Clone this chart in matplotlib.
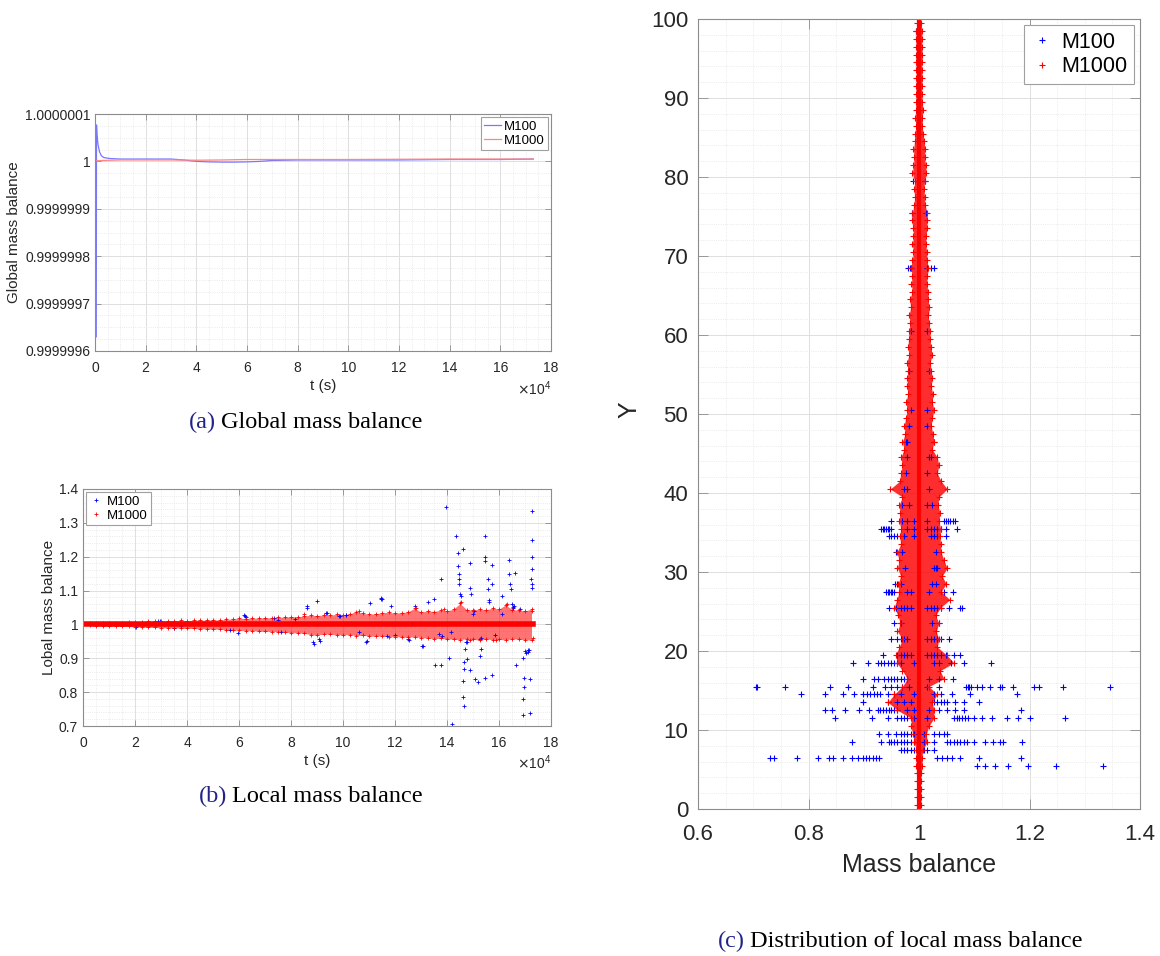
import numpy as np
import matplotlib
matplotlib.use("Agg")
import matplotlib.pyplot as plt
from matplotlib.ticker import FixedLocator, FixedFormatter, MultipleLocator, FuncFormatter

plt.rcParams['font.family'] = ['Liberation Sans', 'DejaVu Sans']

# ── (a) global mass balance: time in 1e4 s, deviation from 1 in 1e-9 ─────────
ga_t_m100 = [0.05, 0.06, 0.08, 0.12, 0.18, 0.25, 0.35, 0.6, 1, 2, 3, 3.5, 4, 4.5,
             5, 5.5, 6, 6.5, 7, 8, 10, 12, 14, 16, 17.3]
ga_dev_m100 = [-370, 77, 55, 35, 20, 12, 8, 6, 5, 5, 5, 3, 0, -1,
               -1.5, -1.5, -1, 0, 2, 3, 3, 3, 4, 4, 5]
ga_t_m1000 = [0, 0.3, 1, 2, 3, 4, 5, 6, 8, 10, 12, 14, 16, 17.3]
ga_dev_m1000 = [1, 2, 3, 3, 3, 2.5, 3, 4, 4, 4, 4.5, 5, 5, 5]
ga_yticks = [0.9999996, 0.9999997, 0.9999998, 0.9999999, 1.0, 1.0000001]
ga_ylabels = ['0.9999996', '0.9999997', '0.9999998', '0.9999999', '1', '1.0000001']

# ── (b) local mass balance vs time (1e4 s) ────────────────────────────────────
# M1000: spread of the dense red band (deviation from 1, in 1e-3)
lb_t = [0, 0.25, 0.5, 0.75, 1, 1.25, 1.5, 1.75, 2, 2.25, 2.5, 2.75, 3, 3.25, 3.5, 3.75,
        4, 4.25, 4.5, 4.75, 5, 5.25, 5.5, 5.75, 6, 6.25, 6.5, 6.75, 7, 7.25, 7.5, 7.75,
        8, 8.25, 8.5, 8.75, 9, 9.25, 9.5, 9.75, 10, 10.25, 10.5, 10.75, 11, 11.25, 11.5, 11.75,
        12, 12.25, 12.5, 12.75, 13, 13.25, 13.5, 13.75, 14, 14.25, 14.5, 14.75, 15, 15.25, 15.5, 15.75,
        16, 16.25, 16.5, 16.75, 17, 17.25]
lb_red_hi = [3, 3, 3, 4, 4, 5, 5, 6, 8, 7, 9, 10, 9, 11, 10, 12,
             11, 12, 13, 12, 14, 13, 15, 16, 18, 17, 19, 18, 20, 19, 22, 21,
             23, 22, 25, 27, 26, 28, 27, 30, 28, 31, 38, 33, 30, 32, 34, 36,
             33, 35, 37, 48, 36, 40, 38, 42, 40, 45, 62, 44, 42, 46, 43, 48,
             45, 58, 44, 42, 40, 45]
lb_red_lo = [3, 3, 4, 4, 5, 5, 6, 6, 7, 8, 9, 9, 10, 10, 11, 11,
             12, 12, 13, 13, 14, 14, 16, 17, 17, 18, 18, 20, 20, 21, 21, 23,
             24, 25, 26, 30, 32, 28, 29, 30, 31, 30, 33, 32, 34, 35, 34, 36,
             36, 37, 38, 36, 39, 40, 42, 41, 43, 44, 45, 42, 44, 46, 43, 45,
             44, 46, 42, 44, 45, 47]
lb_core_t = [0, 17.3]
lb_core_v = [1.0, 1.0]
lb_red_extra_t = [8.5, 10.6, 12.8, 13.9, 14.55, 14.9, 15.9, 16.3, 17.25, 17.3]
lb_red_extra_v = [1.03, 1.04, 1.05, 1.045, 1.065, 0.955, 0.955, 1.06, 1.04, 0.96]

# M100 points that stand out of the band
lb_blue_t = [13.96, 14.36, 14.42, 14.60, 14.42, 14.46, 14.46, 14.46, 14.50, 14.55,
             13.78, 13.50, 14.90, 14.90, 14.93, 15.45, 15.48, 15.48, 15.56, 15.58,
             15.62, 15.60, 15.74, 15.74, 16.12, 16.38, 16.38, 16.42, 16.45, 16.50,
             16.52, 16.55, 16.58, 16.62, 17.23, 17.26, 17.26, 17.26, 17.26, 17.28, 17.28,
             14.20, 14.63, 14.64, 14.63, 14.67, 14.67, 14.76, 14.70, 14.76, 14.90,
             15.07, 15.20, 15.45, 15.74, 15.27, 15.30, 15.27, 15.29, 13.53, 13.78, 14.08,
             16.66, 16.92, 17.00, 16.92, 16.92, 16.95, 16.95, 17.20, 17.18, 17.05, 17.10,
             17.12, 17.14, 13.08, 13.05, 10.90, 10.92, 12.50, 12.52, 8.85, 8.88, 9.06, 9.10,
             8.63, 8.60, 9.00, 9.34, 9.38, 10.13, 10.10, 11.48, 11.46, 11.50, 11.05, 11.86,
             12.76, 13.25, 13.82, 13.68, 14.15, 14.74, 11.69, 10.62, 7.61, 6.22, 6.25,
             6.20, 5.65, 3.78, 2.03, 2.95, 2.90, 7.36, 8.14, 9.84, 9.90, 15.00, 15.02,
             4.70, 5.95, 3.50, 7.50, 12.00, 16.10, 15.85, 16.80]
lb_blue_v = [1.347, 1.262, 1.21, 1.222, 1.173, 1.148, 1.133, 1.119, 1.089, 1.085,
             1.133, 1.076, 1.18, 1.109, 1.09, 1.262, 1.20, 1.188, 1.133, 1.105,
             1.073, 1.065, 1.175, 1.119, 1.084, 1.189, 1.148, 1.119, 1.105, 1.06,
             1.052, 1.05, 1.055, 1.153, 1.135, 1.334, 1.25, 1.20, 1.163, 1.109, 1.12,
             0.706, 0.787, 0.759, 0.832, 0.869, 0.888, 0.898, 0.927, 0.947, 0.864,
             0.839, 0.829, 0.841, 0.851, 0.908, 0.927, 0.957, 0.96, 0.88, 0.88, 0.90,
             0.88, 0.90, 0.922, 0.781, 0.733, 0.815, 0.841, 0.738, 0.84, 0.915, 0.925,
             0.92, 0.925, 0.935, 0.936, 0.947, 0.95, 0.956, 0.955, 0.947, 0.943, 0.957, 0.952,
             1.055, 1.05, 1.07, 1.035, 1.033, 1.028, 1.029, 1.077, 1.074, 1.075, 1.062, 1.055,
             1.053, 1.065, 0.967, 0.972, 0.977, 0.947, 0.967, 0.978, 0.978, 1.025, 1.022,
             1.028, 0.983, 0.996, 0.993, 1.011, 1.01, 1.018, 1.016, 1.024, 1.026, 1.03, 1.04,
             1.005, 0.975, 0.99, 1.013, 0.97, 1.03, 0.97, 1.045]

# ── (c) distribution of local mass balance over Y ─────────────────────────────
lc_y = [0.5, 1.5, 2.5, 3.5, 4.5, 5.5, 6.5, 7.5, 8.5, 9.5, 10.5, 11.5, 12.5, 13.5, 14.5,
        15.5, 16.5, 17.5, 18.5, 19.5, 20.5, 21.5, 22.5, 23.5, 24.5, 25.5, 26.5, 27.5,
        28.5, 29.5, 30.5, 31.5, 32.5, 33.5, 34.5, 35.5, 36.5, 37.5, 38.5, 39.5, 40.5,
        41.5, 42.5, 43.5, 44.5, 45.5, 46.5, 47.5, 48.5, 49.5, 50.5, 51.5, 52.5, 53.5,
        54.5, 55.5, 56.5, 57.5, 58.5, 59.5, 60.5, 61.5, 62.5, 63.5, 64.5, 65.5, 66.5,
        67.5, 68.5, 69.5, 70.5, 71.5, 72.5, 73.5, 74.5, 75.5, 76.5, 77.5, 78.5, 79.5,
        80.5, 81.5, 82.5, 83.5, 84.5, 85.5, 86.5, 87.5, 88.5, 89.5, 90.5, 91.5, 92.5,
        93.5, 94.5, 95.5, 96.5, 97.5, 98.5, 99.5]
# M1000 spread per row (left / right of 1, in 1e-3)
lc_red_lo = [3, 3, 4, 3, 3, 5, 6, 5, 9, 11, 15, 14, 39, 56, 45, 30, 21, 30, 40, 42,
             36, 30, 39, 34, 38, 45, 40, 36, 38, 33, 39, 36, 40, 33, 35, 33, 36, 34, 36, 30,
             52, 35, 33, 30, 33, 27, 30, 25, 27, 24, 21, 24, 20, 22, 21, 20, 22, 18, 20, 19,
             18, 16, 18, 15, 17, 12, 14, 12, 15, 12, 10, 12, 10, 11, 13, 12, 9, 8, 9, 8,
             12, 10, 9, 10, 8, 7, 6, 7, 6, 6, 5, 6, 5, 5, 6, 5, 5, 6, 5, 4]
lc_red_hi = [3, 4, 3, 3, 4, 6, 5, 7, 15, 13, 18, 27, 27, 24, 33, 18, 45, 38, 63, 50,
             33, 36, 31, 36, 30, 39, 56, 40, 49, 42, 51, 45, 40, 39, 38, 39, 36, 38, 34, 36,
             51, 40, 33, 36, 33, 24, 27, 25, 22, 24, 27, 24, 25, 22, 24, 22, 20, 24, 21, 20,
             20, 18, 17, 19, 16, 16, 14, 15, 17, 14, 14, 12, 13, 14, 15, 14, 11, 10, 9, 10,
             13, 12, 10, 11, 9, 7, 6, 6, 7, 6, 5, 5, 6, 5, 5, 6, 5, 5, 5, 4]
lc_core_x = [1.0, 1.0]
lc_core_y = [0, 100]

# M100 rows with points away from the core
lc_blue_rows = [5.5, 6.5, 7.5, 8.5, 9.5, 11.5, 12.5, 13.5, 14.5, 15.5, 16.5, 18.5, 19.5,
                21.5, 23.5, 25.5, 27.5, 28.5, 30.5, 32.5, 34.5, 35.5, 36.5, 38.5, 40.5,
                42.5, 44.5, 46.5, 48.5, 50.5, 55.5, 60.5, 68.5, 75.5, 79.5, 98.5]
lc_blue_x = [
    [1.105, 1.119, 1.137, 1.161, 1.197, 1.248, 1.333],
    [0.731, 0.737, 0.78, 0.817, 0.838, 0.844, 0.863, 0.878, 0.89, 0.898, 0.904, 0.91,
     0.916, 0.922, 0.928, 1.033, 1.042, 1.051, 1.06, 1.075, 1.108, 1.184],
    [0.967, 0.973, 0.979, 0.985, 0.991, 1.009, 1.015, 1.027],
    [0.878, 0.931, 0.946, 0.95, 0.955, 0.961, 0.967, 0.973, 0.979, 0.985, 0.991, 1.009,
     1.027, 1.051, 1.057, 1.063, 1.069, 1.075, 1.081, 1.087, 1.099, 1.119, 1.134, 1.146,
     1.152, 1.187],
    [0.927, 0.943, 0.958, 0.967, 0.973, 0.979, 0.985, 0.991, 1.009, 1.027, 1.036, 1.045, 1.051],
    [0.848, 0.915, 0.943, 0.961, 0.967, 0.973, 0.979, 0.991, 1.015, 1.063, 1.068, 1.073,
     1.078, 1.083, 1.089, 1.099, 1.114, 1.132, 1.159, 1.179, 1.2, 1.265],
    [0.829, 0.842, 0.866, 0.892, 0.91, 0.925, 0.93, 0.935, 0.94, 0.945, 0.95, 0.955,
     0.961, 0.979, 0.991, 1.018, 1.036, 1.051, 1.066, 1.081, 1.185],
    [0.898, 0.943, 0.961, 0.973, 0.985, 1.027, 1.033, 1.039, 1.045, 1.05, 1.066, 1.081, 1.108],
    [0.786, 0.83, 0.862, 0.883, 0.898, 0.905, 0.912, 0.918, 0.924, 0.93, 0.943, 0.955,
     0.967, 0.991, 1.027, 1.039, 1.06, 1.093, 1.177],
    [0.705, 0.707, 0.758, 0.839, 0.872, 0.916, 0.939, 0.95, 0.96, 0.97, 0.982, 1.015,
     1.036, 1.085, 1.088, 1.091, 1.095, 1.105, 1.114, 1.129, 1.146, 1.15, 1.171, 1.208,
     1.218, 1.26, 1.346],
    [0.899, 0.919, 0.925, 0.937, 0.943, 0.949, 0.955, 0.961, 0.967, 0.973, 0.979, 1.018,
     1.036, 1.061],
    [0.88, 0.907, 0.925, 0.931, 0.937, 0.943, 0.949, 0.955, 0.961, 0.967, 0.991, 1.027,
     1.036, 1.058, 1.082, 1.131],
    [0.934, 0.961, 0.967, 0.973, 0.979, 0.985, 1.015, 1.021, 1.027, 1.033, 1.039, 1.048,
     1.064, 1.075],
    [0.95, 0.961, 0.967, 0.973, 0.979, 1.015, 1.021, 1.027, 1.033, 1.039, 1.054],
    [0.955, 0.967, 1.024, 1.036],
    [0.946, 0.958, 0.967, 0.973, 0.979, 0.985, 1.015, 1.021, 1.027, 1.033, 1.039, 1.055,
     1.075, 1.078],
    [0.94, 0.943, 0.946, 0.949, 0.952, 0.955, 0.979, 0.985, 1.018, 1.045, 1.062],
    [0.957, 0.961, 0.967, 1.024, 1.03],
    [0.975, 1.027, 1.03, 1.033],
    [0.958, 0.97, 1.03],
    [0.945, 0.949, 0.955, 0.961, 0.973, 0.991, 1.021, 1.027, 1.033, 1.048],
    [0.931, 0.934, 0.937, 0.94, 0.943, 0.946, 0.949, 0.979, 0.991, 1.015, 1.021, 1.027,
     1.033, 1.039, 1.048, 1.068],
    [0.949, 0.97, 0.979, 0.991, 1.015, 1.045, 1.049, 1.053, 1.057, 1.061, 1.066],
    [0.97, 0.982, 1.015, 1.024],
    [0.973, 0.979, 1.018],
    [0.976, 1.015],
    [0.979, 1.018, 1.021],
    [0.976, 0.979, 1.027],
    [0.982, 1.015],
    [0.985, 1.015],
    [0.982, 1.018],
    [0.985, 1.015],
    [0.98, 0.983, 0.986, 1.015, 1.021, 1.027],
    [0.988, 1.012],
    [0.99, 1.01],
    [0.995],
]

# ── style ─────────────────────────────────────────────────────────────────────
W, H = 1160, 956
AX_COL = '#8c8c8c'
TXT_COL = '#262626'
BLUE, RED = '#0000ff', '#ff0000'


def px_axes(left, top, right, bottom):
    return fig.add_axes([left / W, 1 - bottom / H, (right - left) / W, (bottom - top) / H])


def matlab_style(ax, ticklen, fs, xpad, ypad):
    for s in ax.spines.values():
        s.set_color(AX_COL)
        s.set_linewidth(0.8)
    ax.tick_params(which='major', direction='in', length=ticklen, width=0.6,
                   color=AX_COL, labelcolor=TXT_COL, labelsize=fs,
                   top=True, right=True)
    ax.tick_params(axis='x', which='major', pad=xpad)
    ax.tick_params(axis='y', which='major', pad=ypad)
    ax.tick_params(which='minor', length=0, top=True, right=True)
    ax.grid(True, which='major', color='#dedede', lw=0.7)
    ax.grid(True, which='minor', color='#e4e4e4', lw=0.6, ls=':')
    ax.set_axisbelow(True)


def gfmt(v, pos):
    return '%g' % round(v, 6)


fig = plt.figure(figsize=(W / 100, H / 100), dpi=100)

# ── panel (a) ─────────────────────────────────────────────────────────────────
ax_a = px_axes(95, 114, 551, 351)
ax_a.plot(ga_t_m100, 1 + np.array(ga_dev_m100) * 1e-9, color='#7878ff', lw=0.9, label='M100')
ax_a.plot(ga_t_m1000, 1 + np.array(ga_dev_m1000) * 1e-9, color='#ff8585', lw=0.9, label='M1000')
ax_a.set_xlim(0, 18)
ax_a.set_ylim(0.9999996, 1.0000001)
ax_a.xaxis.set_major_locator(MultipleLocator(2))
ax_a.xaxis.set_minor_locator(MultipleLocator(0.5))
ax_a.xaxis.set_major_formatter(FuncFormatter(gfmt))
ax_a.yaxis.set_major_locator(FixedLocator(ga_yticks))
ax_a.yaxis.set_major_formatter(FixedFormatter(ga_ylabels))
ax_a.yaxis.set_minor_locator(FixedLocator(np.linspace(0.9999996, 1.0000001, 21)))
matlab_style(ax_a, 4, 10, 7, 3)
ax_a.set_xlabel('t (s)', fontsize=11, color=TXT_COL, va='center')
ax_a.xaxis.set_label_coords(0.5, -0.148)
ax_a.set_ylabel('Global mass balance', fontsize=11, color=TXT_COL, va='center')
ax_a.yaxis.set_label_coords(-0.178, 0.5)
ax_a.text(1.0, -0.16, r'$\times\mathdefault{10^{4}}$', transform=ax_a.transAxes,
          ha='right', va='center', fontsize=10, color=TXT_COL)
leg = ax_a.legend(loc='upper right', fontsize=9.5, handlelength=1.3, handletextpad=0.2,
                  borderpad=0.25, labelspacing=0.15, borderaxespad=0.25, fancybox=False,
                  framealpha=1)
leg.get_frame().set_edgecolor('#a0a0a0')
leg.get_frame().set_linewidth(0.8)

# ── panel (b) ─────────────────────────────────────────────────────────────────
ax_b = px_axes(83, 489, 551, 726)
ax_b.plot(lb_blue_t, lb_blue_v, ls='none', marker='+', ms=2.8, mew=0.6, color=BLUE, label='M100')
lb_hi = 1 + np.array(lb_red_hi) * 1e-3
lb_lo = 1 - np.array(lb_red_lo) * 1e-3
ax_b.fill_between(lb_t, lb_lo, lb_hi, color=RED, alpha=0.55, lw=0)
ax_b.plot(lb_core_t, lb_core_v, color=RED, lw=4)
ax_b.plot(lb_t, lb_hi, ls='none', marker='+', ms=2.8, mew=0.6, color=RED)
ax_b.plot(lb_t, lb_lo, ls='none', marker='+', ms=2.8, mew=0.6, color=RED)
ax_b.plot(lb_red_extra_t, lb_red_extra_v, ls='none', marker='+', ms=2.8, mew=0.6,
          color=RED, label='M1000')
ax_b.set_xlim(0, 18)
ax_b.set_ylim(0.7, 1.4)
ax_b.xaxis.set_major_locator(MultipleLocator(2))
ax_b.xaxis.set_minor_locator(MultipleLocator(0.5))
ax_b.yaxis.set_major_locator(MultipleLocator(0.1))
ax_b.yaxis.set_minor_locator(MultipleLocator(0.02))
ax_b.xaxis.set_major_formatter(FuncFormatter(gfmt))
ax_b.yaxis.set_major_formatter(FuncFormatter(gfmt))
matlab_style(ax_b, 4, 10, 7, 3.5)
ax_b.set_xlabel('t (s)', fontsize=11, color=TXT_COL, va='center')
ax_b.xaxis.set_label_coords(0.5, -0.148)
ax_b.set_ylabel('Lobal mass balance', fontsize=11, color=TXT_COL, va='center')
ax_b.yaxis.set_label_coords(-0.073, 0.5)
ax_b.text(1.0, -0.156, r'$\times\mathdefault{10^{4}}$', transform=ax_b.transAxes,
          ha='right', va='center', fontsize=10, color=TXT_COL)
leg = ax_b.legend(loc='upper left', fontsize=9.5, handlelength=1.0, handletextpad=0.3,
                  borderpad=0.25, labelspacing=0.15, borderaxespad=0.25, fancybox=False,
                  framealpha=1, numpoints=1)
leg.get_frame().set_edgecolor('#a0a0a0')
leg.get_frame().set_linewidth(0.8)

# ── panel (c) ─────────────────────────────────────────────────────────────────
ax_c = px_axes(698, 19, 1140, 809)
for yrow, xs in zip(lc_blue_rows, lc_blue_x):
    ax_c.plot(xs, [yrow] * len(xs), ls='none', marker='+', ms=4.5, mew=0.8, color=BLUE)
lc_hi = 1 + np.array(lc_red_hi) * 1e-3
lc_lo = 1 - np.array(lc_red_lo) * 1e-3
ax_c.fill_betweenx(lc_y, lc_lo, lc_hi, color=RED, alpha=0.82, lw=0)
ax_c.plot(lc_core_x, lc_core_y, color=RED, lw=3)
ax_c.plot(lc_hi, lc_y, ls='none', marker='+', ms=4.5, mew=0.8, color=RED)
ax_c.plot(lc_lo, lc_y, ls='none', marker='+', ms=4.5, mew=0.8, color=RED)
ax_c.plot([], [], ls='none', marker='+', ms=5, mew=0.8, color=BLUE, label='M100')
ax_c.plot([], [], ls='none', marker='+', ms=5, mew=0.8, color=RED, label='M1000')
ax_c.set_xlim(0.6, 1.4)
ax_c.set_ylim(0, 100)
ax_c.xaxis.set_major_locator(MultipleLocator(0.2))
ax_c.xaxis.set_minor_locator(MultipleLocator(0.05))
ax_c.yaxis.set_major_locator(MultipleLocator(10))
ax_c.yaxis.set_minor_locator(MultipleLocator(2))
ax_c.xaxis.set_major_formatter(FuncFormatter(gfmt))
ax_c.yaxis.set_major_formatter(FuncFormatter(gfmt))
matlab_style(ax_c, 7, 16, 11, 7)
ax_c.set_xlabel('Mass balance', fontsize=18, color=TXT_COL, va='center')
ax_c.xaxis.set_label_coords(0.5, -0.071)
ax_c.set_ylabel('Y', fontsize=18, color=TXT_COL, va='center')
ax_c.yaxis.set_label_coords(-0.154, 0.505)
leg = ax_c.legend(loc='upper right', fontsize=15.5, handlelength=1.0, handletextpad=0.4,
                  borderpad=0.3, labelspacing=0.15, borderaxespad=0.3, fancybox=False,
                  framealpha=1, numpoints=1)
leg.get_frame().set_edgecolor('#a0a0a0')
leg.get_frame().set_linewidth(0.8)

# ── captions ──────────────────────────────────────────────────────────────────
CAP_FONT = ['Liberation Serif', 'DejaVu Serif']
NAVY = '#22228a'
for lab, txt, xr, yb in [('(a)', 'Global mass balance', 216, 428),
                         ('(b)', 'Local mass balance', 227, 802),
                         ('(c)', 'Distribution of local mass balance', 745, 947)]:
    fig.text(xr / W, 1 - yb / H, lab, ha='right', va='baseline', fontsize=17.5,
             family=CAP_FONT, color=NAVY)
    fig.text((xr + 5) / W, 1 - yb / H, txt, ha='left', va='baseline', fontsize=17.5,
             family=CAP_FONT, color='black')

fig.savefig('out.png', dpi=100, facecolor='white')
